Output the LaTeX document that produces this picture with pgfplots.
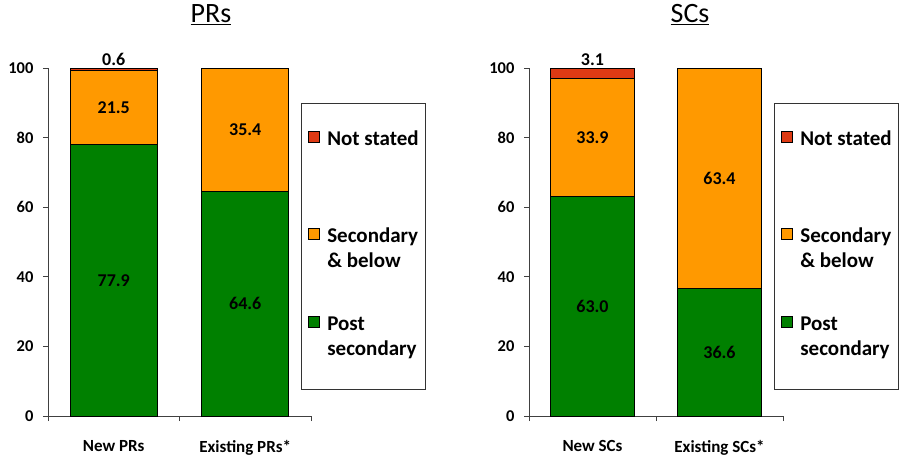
\documentclass[border=0pt]{standalone}
\usepackage{fontspec}
\setmainfont{Carlito}
\usepackage{pgfplots}
\pgfplotsset{compat=1.18}
\definecolor{cgreen}{RGB}{0,128,0}
\definecolor{corange}{RGB}{255,153,0}
\definecolor{cred}{RGB}{222,58,20}
\newcommand{\twol}[2]{\begin{tabular}[t]{@{}l@{}}#1\\#2\end{tabular}}
\pgfplotsset{
  sq legend/.style={legend image code/.code={\draw[##1,draw=black,line width=0.9pt] (0pt,3pt) rectangle (11pt,14pt);}},
  seg/.style={
    nodes near coords={\pgfmathprintnumber[fixed,fixed zerofill,precision=1]{\pgfplotspointmeta}},
    point meta=explicit,
    nodes near coords style={font=\fontsize{18}{20}\selectfont\bfseries, text=black, anchor=center, inner sep=0pt},
  },
  toplab/.style={
    nodes near coords, point meta=explicit symbolic,
    visualization depends on={rawy \as \rawy},
    nodes near coords style={font=\fontsize{18}{20}\selectfont\bfseries, text=black, anchor=south, inner sep=0pt,
      shift={(axis direction cs:0,\rawy/2)}, yshift=2pt},
  },
  mybase/.style={
    scale only axis, height=348pt, anchor=south west,
    ybar stacked, bar width=0.66,
    xmin=-0.5, xmax=1.5, ymin=0, ymax=100,
    axis x line*=bottom, axis y line*=left,
    axis line style={line width=0.9pt, black!75},
    tick align=outside, major tick length=5pt,
    ytick={0,20,...,100},
    ytick style={line width=0.9pt, black!75},
    xtick={0,1},
    xtick style={draw=none},
    extra x ticks={-0.5,0.5,1.5}, extra x tick labels={},
    extra x tick style={xtick style={draw=black!75, line width=0.9pt}},
    /pgf/number format/assume math mode=true,
    yticklabel style={font=\fontsize{16.5}{20}\selectfont\bfseries, xshift=-6pt},
    xticklabel style={font=\fontsize{17}{20}\selectfont\bfseries, yshift=-16pt},
    title style={font=\fontsize{28}{30}\selectfont, anchor=base, yshift=39pt},
    reverse legend,
    legend style={anchor=north west, draw=black!80, line width=0.8pt, fill=white,
      inner xsep=7pt, inner ysep=27pt, row sep=0pt, column sep=7pt,
      font=\fontsize{21}{25}\selectfont\bfseries,
      cells={anchor=base west}, nodes={inner sep=0pt, text depth=, text height=}},
    every axis plot/.append style={draw=black, line width=1pt},
  },
}
\begin{document}
\begin{tikzpicture}
\useasboundingbox (0,0) rectangle (899pt,456pt);
\begin{axis}[mybase, width=263pt, at={(48pt,40pt)},
  xticklabels={New PRs, Existing PRs*},
  title={\underline{PRs}}, title style={at={(0.62,1)}},
  legend style={at={(0.962,0.899)}}]
\addplot[seg, fill=cgreen, sq legend] coordinates {(0,77.9) [77.9] (1,64.6) [64.6]};
\addlegendentry{\twol{Post}{secondary}}
\addplot[seg, fill=corange, sq legend] coordinates {(0,21.5) [21.5] (1,35.4) [35.4]};
\addlegendentry{\twol{Secondary}{\& below\rule[-45pt]{0pt}{0pt}}}
\addplot[toplab, fill=cred, sq legend] coordinates {(0,0.6) [0.6]};
\addlegendentry{Not stated\rule[-80pt]{0pt}{0pt}}
\end{axis}
\begin{axis}[mybase, width=254pt, at={(529pt,40pt)},
  xticklabels={New SCs, Existing SCs*},
  title={\underline{SCs}}, title style={at={(0.634,1)}},
  legend style={at={(0.9646,0.899)}}]
\addplot[seg, fill=cgreen, sq legend] coordinates {(0,63.0) [63.0] (1,36.6) [36.6]};
\addlegendentry{\twol{Post}{secondary}}
\addplot[seg, fill=corange, sq legend] coordinates {(0,33.9) [33.9] (1,63.4) [63.4]};
\addlegendentry{\twol{Secondary}{\& below\rule[-45pt]{0pt}{0pt}}}
\addplot[toplab, fill=cred, sq legend] coordinates {(0,3.1) [3.1]};
\addlegendentry{Not stated\rule[-80pt]{0pt}{0pt}}
\end{axis}
\end{tikzpicture}
\end{document}
